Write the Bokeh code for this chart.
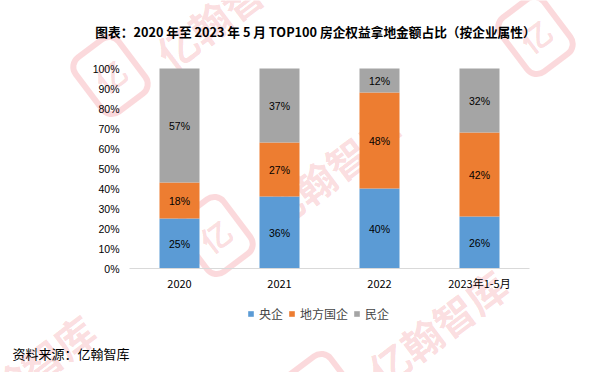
import math
from bokeh.plotting import figure
from bokeh.models import (ColumnDataSource, Legend, LegendItem, Label, NumeralTickFormatter,
                          FixedTicker, Range1d)
from bokeh.core.properties import value
from bokeh.embed import file_html
from bokeh.resources import INLINE

# ---- data ----
categories = ["2020", "2021", "2022", "2023年1-5月"]
series_names = ["央企", "地方国企", "民企"]
central = [0.25, 0.36, 0.40, 0.26]
local = [0.18, 0.27, 0.48, 0.42]
private = [0.57, 0.37, 0.12, 0.32]
y_ticks = [i / 10 for i in range(11)]

title_text = "图表：2020 年至 2023 年 5 月 TOP100 房企权益拿地金额占比（按企业属性）"
source_text = "资料来源：亿翰智库"
watermark_text = "亿翰智库"

# ---- style ----
colors = ["#5B9BD5", "#ED7D31", "#A5A5A5"]
CJK = "Noto Sans CJK SC"
NUM = "Liberation Sans"
W, H = 600, 372

xpos = [i + 0.5 for i in range(len(categories))]

p = figure(width=W, height=H, output_backend="svg", toolbar_location=None, min_border=0,
           x_range=Range1d(-1.29, 4.71), y_range=Range1d(-0.52, 1.34))
p.title.visible = False
p.grid.visible = False
p.outline_line_color = None
p.background_fill_color = "white"
p.border_fill_color = "white"

# watermark (decoration, behind the bars)
wm_text_pos = [(225, 10), (330, 170), (437, 327), (25, 372)]
wm_logo_pos = [(110, 75), (215, 235), (322, 392), (535, 35)]
ang = math.radians(37)
for (cx, cy) in wm_text_pos:
    p.add_layout(Label(x=cx, y=H - cy, x_units="screen", y_units="screen", text=watermark_text,
                       angle=ang, text_align="center", text_baseline="middle", text_font=CJK,
                       text_font_style="bold", text_font_size="40px", text_color="#E60012",
                       text_alpha=0.15, level="underlay"))
for (cx, cy) in wm_logo_pos:
    p.add_layout(Label(x=cx, y=H - cy, x_units="screen", y_units="screen", text="亿",
                       angle=ang, text_align="center", text_baseline="middle", text_font=CJK,
                       text_font_style="bold", text_font_size="30px", text_color="#E60012",
                       text_alpha=0.15, border_line_color="#E60012", border_line_alpha=0.15,
                       border_line_width=6, border_radius=12, padding=12, level="underlay"))

src = ColumnDataSource(dict(x=xpos, a=central, b=local, c=private))
rs = p.vbar_stack(["a", "b", "c"], x="x", width=0.4, color=colors, line_color=None, source=src)

lab_x, lab_y, lab_t = [], [], []
for i, x in enumerate(xpos):
    base = 0.0
    for vals in (central, local, private):
        v = vals[i]
        lab_x.append(x)
        lab_y.append(base + v / 2)
        lab_t.append(f"{round(v * 100)}%")
        base += v
p.text(x=lab_x, y=lab_y, text=lab_t, text_align="center", text_baseline="middle",
       text_font=value(NUM), text_font_size="10.5px", text_color="#000000")

# y axis drawn at x=0
yax = p.yaxis[0]
yax.fixed_location = 0
yax.ticker = FixedTicker(ticks=y_ticks)
yax.formatter = NumeralTickFormatter(format="0%")
yax.axis_line_color = None
yax.major_tick_line_color = None
yax.minor_tick_line_color = None
yax.major_label_text_font = NUM
yax.major_label_text_font_size = "10.5px"
yax.major_label_text_color = "#000000"
yax.major_label_standoff = 4

# x axis drawn at y=0
xax = p.xaxis[0]
xax.fixed_location = 0
xax.bounds = (0, len(categories))
xax.ticker = FixedTicker(ticks=xpos)
xax.major_label_overrides = {x: c for x, c in zip(xpos, categories)}
xax.axis_line_color = "#D9D9D9"
xax.axis_line_width = 1
xax.major_tick_line_color = None
xax.minor_tick_line_color = None
xax.major_label_text_font = CJK
xax.major_label_text_font_size = "11px"
xax.major_label_text_color = "#000000"
xax.major_label_standoff = 0

# title and source (screen units, frame = whole canvas)
p.add_layout(Label(x=315, y=H - 31, x_units="screen", y_units="screen", text=title_text,
                   text_align="center", text_baseline="middle", text_font=CJK,
                   text_font_style="bold", text_font_size="12.7px", text_color="#000000"))
p.add_layout(Label(x=12, y=H - 353, x_units="screen", y_units="screen", text=source_text,
                   text_align="left", text_baseline="middle", text_font=CJK,
                   text_font_size="13px", text_color="#000000"))

legend = Legend(items=[LegendItem(label=n, renderers=[r]) for n, r in zip(series_names, rs)],
                orientation="horizontal", location=(247, H - 322),
                glyph_width=7, glyph_height=7, label_text_font=CJK, label_text_font_size="12px",
                label_standoff=5, spacing=5, padding=0, margin=0,
                border_line_color=None, background_fill_alpha=0)
p.add_layout(legend, "center")

open("out.html", "w").write(file_html(p, INLINE))
